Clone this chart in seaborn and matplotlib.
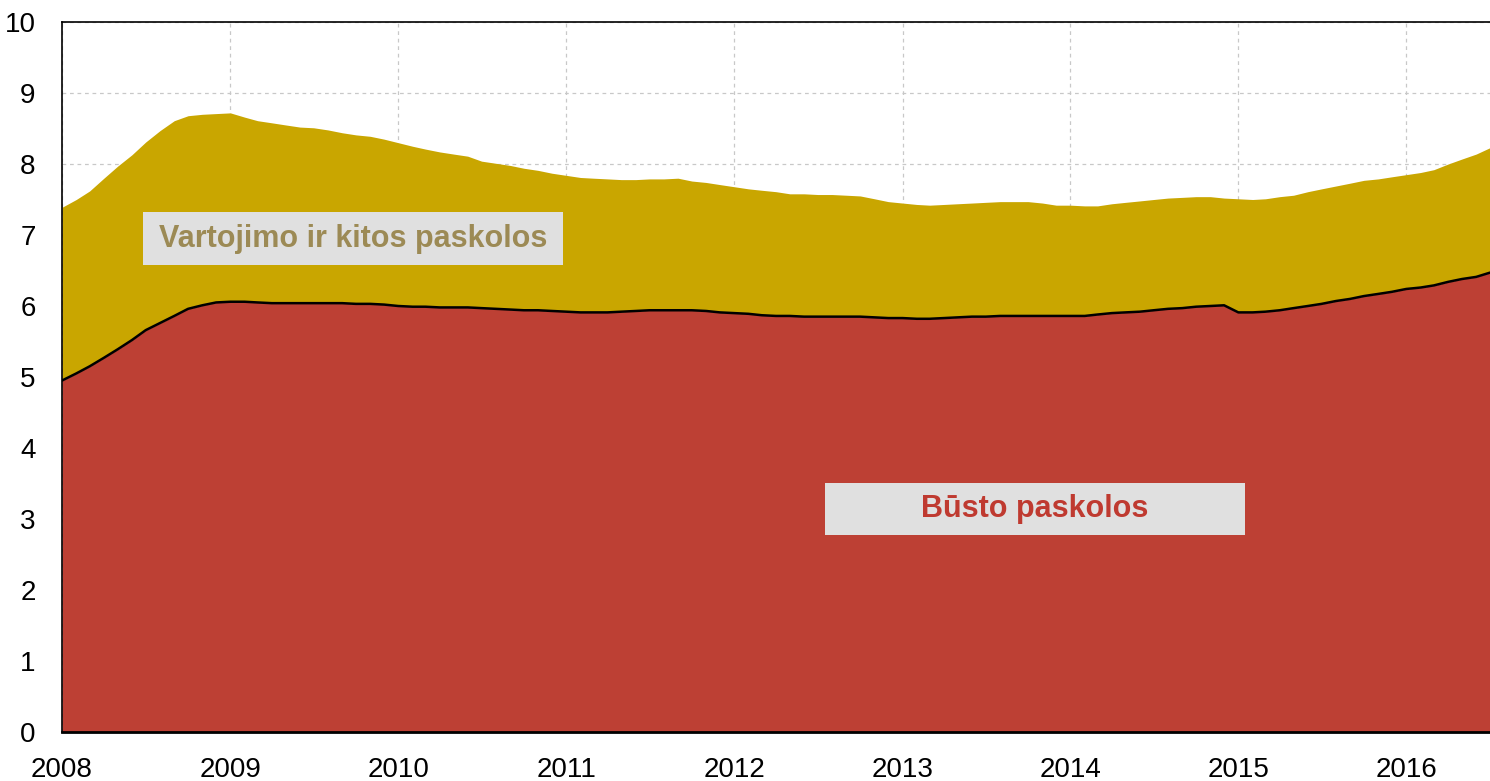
"""
Namų ūkių paskolos (mlrd. EUR): būsto ir vartojimo / kitos paskolos, 2008–2016.
"""

import matplotlib
matplotlib.use("Agg")
import matplotlib.dates as mdates
import matplotlib.patches as mpatches
import matplotlib.pyplot as plt
import numpy as np
import pandas as pd
import seaborn as sns

# ──────────────────────────────────────────────────────────────────────────────
# Duomenys (mėnesiniai, 2008-01 … 2016-07)
# ──────────────────────────────────────────────────────────────────────────────
start_month = "2008-01-01"
n_months = 103

# Būsto paskolos (apatinė sritis)
busto = [
    4.95, 5.05, 5.15, 5.27, 5.39, 5.52, 5.66, 5.76, 5.86, 5.96, 6.01, 6.05,  # 2008
    6.06, 6.06, 6.05, 6.04, 6.04, 6.04, 6.04, 6.04, 6.04, 6.03, 6.03, 6.02,  # 2009
    6.00, 5.99, 5.99, 5.98, 5.98, 5.98, 5.97, 5.96, 5.95, 5.94, 5.94, 5.93,  # 2010
    5.92, 5.91, 5.91, 5.91, 5.92, 5.93, 5.94, 5.94, 5.94, 5.94, 5.93, 5.91,  # 2011
    5.90, 5.89, 5.87, 5.86, 5.86, 5.85, 5.85, 5.85, 5.85, 5.85, 5.84, 5.83,  # 2012
    5.83, 5.82, 5.82, 5.83, 5.84, 5.85, 5.85, 5.86, 5.86, 5.86, 5.86, 5.86,  # 2013
    5.86, 5.86, 5.88, 5.90, 5.91, 5.92, 5.94, 5.96, 5.97, 5.99, 6.00, 6.01,  # 2014
    5.91, 5.91, 5.92, 5.94, 5.97, 6.00, 6.03, 6.07, 6.10, 6.14, 6.17, 6.20,  # 2015
    6.24, 6.26, 6.29, 6.34, 6.38, 6.41, 6.47,                                # 2016
]

# Visos paskolos (viršutinė riba = būsto + vartojimo ir kitos)
viso = [
    7.39, 7.50, 7.62, 7.80, 7.97, 8.13, 8.31, 8.47, 8.61, 8.68, 8.70, 8.71,  # 2008
    8.72, 8.66, 8.61, 8.58, 8.55, 8.52, 8.51, 8.48, 8.44, 8.41, 8.39, 8.35,  # 2009
    8.30, 8.25, 8.21, 8.17, 8.14, 8.11, 8.04, 8.01, 7.98, 7.94, 7.91, 7.87,  # 2010
    7.84, 7.81, 7.80, 7.79, 7.78, 7.78, 7.79, 7.79, 7.80, 7.76, 7.74, 7.71,  # 2011
    7.68, 7.65, 7.63, 7.61, 7.58, 7.58, 7.57, 7.57, 7.56, 7.55, 7.51, 7.47,  # 2012
    7.45, 7.43, 7.42, 7.43, 7.44, 7.45, 7.46, 7.47, 7.47, 7.47, 7.45, 7.42,  # 2013
    7.42, 7.41, 7.41, 7.44, 7.46, 7.48, 7.50, 7.52, 7.53, 7.54, 7.54, 7.52,  # 2014
    7.51, 7.50, 7.51, 7.54, 7.56, 7.61, 7.65, 7.69, 7.73, 7.77, 7.79, 7.82,  # 2015
    7.85, 7.88, 7.92, 8.00, 8.07, 8.14, 8.23,                                # 2016
]

y_ticks = list(range(0, 11))

label_kitos = "Vartojimo ir kitos paskolos"
label_busto = "Būsto paskolos"

# Spalvos
RED = "#bd4034"
GOLD = "#c9a600"
BOX = "#e0e0e0"

# ──────────────────────────────────────────────────────────────────────────────
# Grafikas
# ──────────────────────────────────────────────────────────────────────────────
sns.set_theme(style="white")
plt.rcParams["font.family"] = ["Liberation Sans Narrow", "Liberation Sans", "DejaVu Sans"]

df = pd.DataFrame({
    "data": pd.date_range(start_month, periods=n_months, freq="MS"),
    "busto": busto,
    "viso": viso,
})

fig = plt.figure(figsize=(14.9, 7.81), dpi=100)
ax = fig.add_axes([62 / 1490, 49 / 781, 1428 / 1490, 710 / 781])

ax.fill_between(df["data"], 0, df["busto"], color=RED, lw=0, zorder=2)
ax.fill_between(df["data"], df["busto"], df["viso"], color=GOLD, lw=0, zorder=2)
sns.lineplot(data=df, x="data", y="busto", color="black", lw=1.8, ax=ax, zorder=3)

ax.set_xlim(df["data"].iloc[0], df["data"].iloc[-1])
ax.set_ylim(0, 10)
ax.set_yticks(y_ticks)
ax.xaxis.set_major_locator(mdates.YearLocator())
ax.xaxis.set_major_formatter(mdates.DateFormatter("%Y"))
ax.set_xlabel("")
ax.set_ylabel("")

ax.grid(True, color="#c8c8c8", linestyle=(0, (3, 3)), lw=0.9, zorder=0)
ax.set_axisbelow(True)
ax.tick_params(axis="both", length=0, labelsize=20, colors="black")
ax.tick_params(axis="y", pad=19)
ax.tick_params(axis="x", pad=18)

for side in ["left", "top", "bottom"]:
    ax.spines[side].set_visible(True)
    ax.spines[side].set_color("black")
    ax.spines[side].set_linewidth(1.2)
ax.spines["bottom"].set_linewidth(2.0)
ax.spines["bottom"].set_zorder(4)
ax.spines["right"].set_visible(False)

# Etiketės su pilkais fonais (ašių koordinatės)
ax.add_patch(mpatches.Rectangle((0.0567, 0.6577), 0.2941, 0.0747,
                                transform=ax.transAxes, color=BOX, lw=0, zorder=4))
ax.text(0.2038, 0.6950, label_kitos, transform=ax.transAxes, ha="center", va="center",
        fontsize=22, fontweight="bold", color="#9c8a55", zorder=5)

ax.add_patch(mpatches.Rectangle((0.5343, 0.2775), 0.2941, 0.0732,
                                transform=ax.transAxes, color=BOX, lw=0, zorder=4))
ax.text(0.6813, 0.3140, label_busto, transform=ax.transAxes, ha="center", va="center",
        fontsize=22, fontweight="bold", color="#bf3a30", zorder=5)

fig.savefig("out.png", dpi=100)
plt.close(fig)
